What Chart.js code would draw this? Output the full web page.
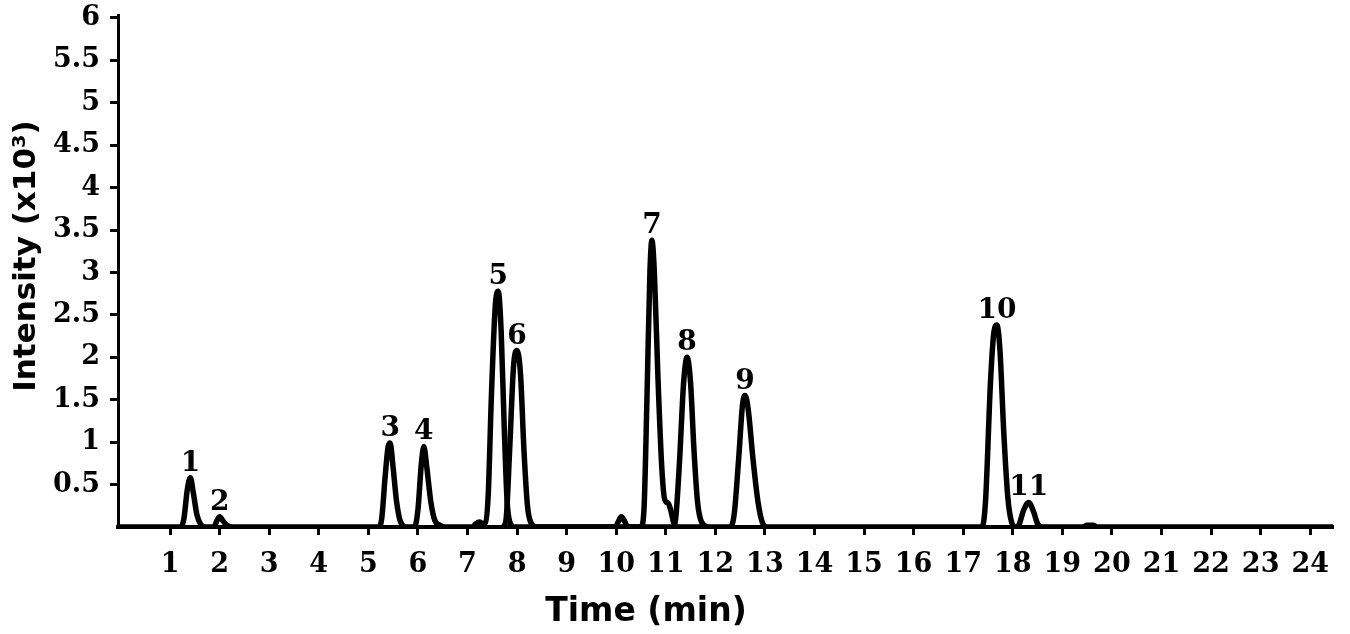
<!DOCTYPE html>
<html>
<head>
<meta charset="utf-8">
<script src="https://cdn.jsdelivr.net/npm/chart.js@4.4.1/dist/chart.umd.min.js"></script>
<style>
  html, body { margin: 0; padding: 0; background: #fff; }
  #wrap { width: 1350px; height: 634px; }
</style>
</head>
<body>
<div id="wrap"><canvas id="myChart" width="1350" height="634"></canvas></div>
<script>
// main trace (peaks 1-5, 7, 9-11 and small bumps)
const traceATime = [
    0, 1.22, 1.28, 1.35, 1.41, 1.47, 1.54, 1.62, 1.72,
    1.88, 1.95, 2.0, 2.07, 2.15, 2.25,
    5.2, 5.27, 5.34, 5.4, 5.44, 5.5, 5.57, 5.65, 5.78,
    5.93, 6.0, 6.07, 6.12, 6.18, 6.26, 6.34, 6.45, 6.55,
    7.1, 7.17, 7.24, 7.31, 7.36, 7.42, 7.48, 7.56, 7.62, 7.68, 7.74, 7.8, 7.86, 7.95,
    9.98, 10.04, 10.1, 10.16, 10.22, 10.3,
    10.5, 10.56, 10.62, 10.68, 10.72, 10.77, 10.84, 10.92, 10.98, 11.05, 11.1, 11.16, 11.22,
    12.3, 12.38, 12.47, 12.55, 12.6, 12.66, 12.76, 12.86, 12.95, 13.05,
    17.38, 17.45, 17.55, 17.62, 17.68, 17.74, 17.82, 17.9, 17.98, 18.06,
    18.12, 18.22, 18.32, 18.42, 18.5, 18.6,
    19.42, 19.5, 19.62, 19.7, 24.46,
];
const traceAIntensity = [
    0, 0, 0.1, 0.45, 0.58, 0.4, 0.15, 0.03, 0,
    0, 0.08, 0.12, 0.07, 0.02, 0,
    0, 0.1, 0.6, 0.95, 0.99, 0.7, 0.3, 0.06, 0,
    0, 0.2, 0.75, 0.95, 0.7, 0.3, 0.08, 0.02, 0,
    0, 0.04, 0.06, 0.04, 0.05, 0.4, 1.5, 2.6, 2.78, 2.3, 1.2, 0.3, 0.05, 0,
    0, 0.06, 0.12, 0.08, 0.01, 0,
    0, 0.2, 1.5, 3.0, 3.38, 3.0, 1.8, 0.7, 0.32, 0.28, 0.2, 0.05, 0,
    0, 0.15, 0.8, 1.45, 1.55, 1.4, 0.8, 0.3, 0.05, 0,
    0, 0.3, 1.7, 2.3, 2.38, 2.1, 1.1, 0.35, 0.05, 0,
    0.02, 0.2, 0.29, 0.18, 0.04, 0,
    0, 0.02, 0.02, 0, 0,
];

// overlapping trace (peaks 6 and 8)
const traceBTime = [
    7.72, 7.78, 7.85, 7.93, 8.0, 8.07, 8.14, 8.21, 8.28, 8.4,
    11.14, 11.2, 11.28, 11.36, 11.43, 11.5, 11.57, 11.64, 11.72, 11.85,
];
const traceBIntensity = [
    0, 0.1, 0.9, 1.9, 2.08, 1.8, 0.9, 0.25, 0.05, 0,
    0, 0.1, 0.8, 1.7, 2.0, 1.7, 0.9, 0.3, 0.06, 0,
];

// peak numbers
const peakNumbers = ['1', '2', '3', '4', '5', '6', '7', '8', '9', '10', '11'];
const peakTimes = [1.41, 2.0, 5.44, 6.12, 7.62, 8.0, 10.72, 11.43, 12.6, 17.68, 18.32];
const peakHeights = [0.58, 0.12, 0.99, 0.95, 2.78, 2.08, 3.38, 2.0, 1.55, 2.38, 0.29];

const xTicks = [1, 2, 3, 4, 5, 6, 7, 8, 9, 10, 11, 12, 13, 14, 15, 16, 17, 18, 19, 20, 21, 22, 23, 24];
const yTicks = [0.5, 1, 1.5, 2, 2.5, 3, 3.5, 4, 4.5, 5, 5.5, 6];

const xTitle = 'Time (min)';
const yTitle = 'Intensity (x10³)';

const toPoints = (t, v) => t.map((x, i) => ({ x: x, y: v[i] }));

const tickFont = { family: "'DejaVu Serif'", size: 27, weight: 'bold', lineHeight: 1 };

// axis titles and peak numbers
const annotate = {
    id: 'annotate',
    afterDraw(chart) {
        const c = chart.ctx;
        const xs = chart.scales.x;
        const ys = chart.scales.y;
        c.save();
        c.fillStyle = '#000';

        c.font = "bold 28px 'DejaVu Serif'";
        c.textAlign = 'center';
        c.textBaseline = 'alphabetic';
        peakNumbers.forEach((n, i) => {
            c.fillText(n, xs.getPixelForValue(peakTimes[i]), ys.getPixelForValue(peakHeights[i]) - 7);
        });

        c.font = "bold 33px 'DejaVu Sans'";
        c.fillText(xTitle, 646, 621);

        c.translate(35, 256);
        c.rotate(-Math.PI / 2);
        c.font = "bold 31px 'DejaVu Sans'";
        c.fillText(yTitle, 0, 0);
        c.restore();
    },
};

const ctx = document.getElementById('myChart').getContext('2d');
const myChart = new Chart(ctx, {
    type: 'line',
    data: {
        datasets: [{
            data: toPoints(traceATime, traceAIntensity),
            borderColor: '#000',
            borderWidth: 5.5,
        }, {
            data: toPoints(traceBTime, traceBIntensity),
            borderColor: '#000',
            borderWidth: 5.5,
        }],
    },
    options: {
        responsive: false,
        animation: false,
        events: [],
        layout: { padding: { top: 15, right: 17, bottom: 0, left: 0 } },
        elements: {
            point: { radius: 0 },
            line: { cubicInterpolationMode: 'monotone', borderJoinStyle: 'round', borderCapStyle: 'round' },
        },
        plugins: {
            legend: { display: false },
            tooltip: { enabled: false },
        },
        scales: {
            x: {
                type: 'linear',
                min: -0.05,
                max: 24.46,
                afterFit: s => { s.height = 107; s.paddingLeft = 0; s.paddingRight = 0; },
                afterBuildTicks: s => { s.ticks = xTicks.map(v => ({ value: v })); },
                border: { display: true, color: '#000', width: 4 },
                grid: { drawOnChartArea: false, drawTicks: true, tickLength: 8, tickWidth: 3, tickColor: '#000' },
                ticks: { color: '#000', font: tickFont, padding: 16, maxRotation: 0, autoSkip: false, callback: v => String(v) },
            },
            y: {
                min: 0,
                max: 6.035,
                afterFit: s => { s.width = 118; s.paddingTop = 0; s.paddingBottom = 0; },
                afterBuildTicks: s => { s.ticks = yTicks.map(v => ({ value: v })); },
                border: { display: true, color: '#000', width: 3 },
                grid: { drawOnChartArea: false, drawTicks: true, tickLength: 8, tickWidth: 3, tickColor: '#000' },
                ticks: { color: '#000', font: tickFont, padding: 10, autoSkip: false, callback: v => String(v) },
            },
        },
    },
    plugins: [annotate],
});
</script>
</body>
</html>
